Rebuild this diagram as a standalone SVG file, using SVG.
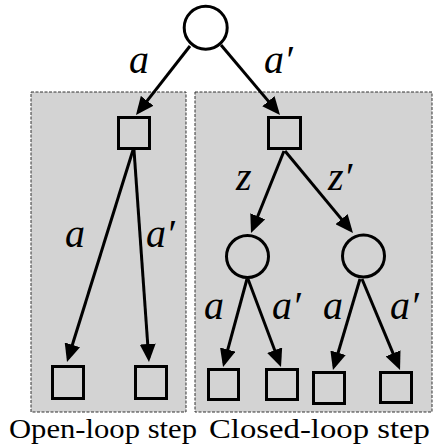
<svg xmlns="http://www.w3.org/2000/svg" width="435" height="448" viewBox="0 0 435 448">
<style>
.panel{fill:#d3d3d3;stroke:#333;stroke-width:1;stroke-dasharray:3 1.5}
.node{fill:none;stroke:#000;stroke-width:3}
.edge{fill:none;stroke:#000;stroke-width:3;marker-end:url(#arr)}
</style>
<defs>
<marker id="arr" markerUnits="userSpaceOnUse" markerWidth="18" markerHeight="16" refX="14" refY="8" orient="auto">
<path d="M0,0 L18,8 L0,16 z" fill="#000"/>
</marker>
</defs>
<g id="panels">
<rect class="panel" x="31" y="92" width="155" height="320"/>
<rect class="panel" x="195" y="92" width="237" height="320"/>
</g>
<g id="connectors">
<line class="edge" x1="190" y1="46" x2="138.5" y2="111.8"/>
<line class="edge" x1="221" y1="45" x2="277.4" y2="111.9"/>
<line class="edge" x1="133" y1="150" x2="68.2" y2="358.2"/>
<line class="edge" x1="134" y1="150" x2="148.7" y2="358"/>
<line class="edge" x1="284" y1="151" x2="252.5" y2="229.3"/>
<line class="edge" x1="285" y1="151" x2="350.4" y2="229.9"/>
<line class="edge" x1="247" y1="279" x2="224.1" y2="363.1"/>
<line class="edge" x1="248" y1="279" x2="279.6" y2="363.3"/>
<line class="edge" x1="360" y1="279" x2="334.1" y2="366.2"/>
<line class="edge" x1="362" y1="279" x2="398.5" y2="366.3"/>
</g>
<g id="root"><circle class="node" cx="205.7" cy="27.7" r="21.5"/></g>
<g id="sq-left"><rect class="node" x="118.5" y="117.5" width="31" height="31"/></g>
<g id="sq-right"><rect class="node" x="268.5" y="117.5" width="32" height="31"/></g>
<g id="sq-ll"><rect class="node" x="52.5" y="366.5" width="31" height="32"/></g>
<g id="sq-lr"><rect class="node" x="135.5" y="366.5" width="31" height="32"/></g>
<g id="circ-1"><circle class="node" cx="247.5" cy="256.5" r="21"/></g>
<g id="circ-2"><circle class="node" cx="363.5" cy="256" r="21"/></g>
<g id="sq-b1"><rect class="node" x="208.5" y="369.5" width="30" height="30"/></g>
<g id="sq-b2"><rect class="node" x="266.5" y="369.5" width="31" height="30"/></g>
<g id="sq-b3"><rect class="node" x="313.5" y="372.5" width="31" height="31"/></g>
<g id="sq-b4"><rect class="node" x="380.5" y="372.5" width="31" height="30"/></g>
<g id="labels" font-family="'Liberation Serif', serif" font-style="italic" font-size="40" fill="#000">
<text x="129" y="73">a</text>
<text x="264" y="73">a′</text>
<text x="65" y="247">a</text>
<text x="146" y="247">a′</text>
<text x="236" y="190">z</text>
<text x="328" y="190">z′</text>
<text x="204" y="319">a</text>
<text x="272" y="319">a′</text>
<text x="323" y="319">a</text>
<text x="390" y="319">a′</text>
</g>
<g id="captions" font-family="'Liberation Serif', serif" font-size="28" fill="#000">
<text x="9" y="438" textLength="188" lengthAdjust="spacingAndGlyphs">Open-loop step</text>
<text x="209" y="438" textLength="221" lengthAdjust="spacingAndGlyphs">Closed-loop step</text>
</g>
</svg>
